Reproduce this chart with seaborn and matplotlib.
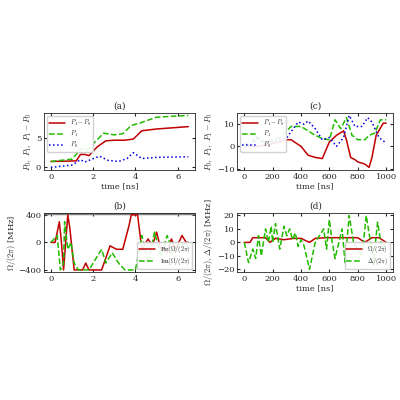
import matplotlib
matplotlib.use("Agg")
import matplotlib.pyplot as plt
import seaborn as sns
import pandas as pd

sns.set_style("ticks")
plt.rcParams.update({"font.family": ["DejaVu Serif"], "mathtext.fontset": "cm", "font.size": 6})

ta = [0,1.2,1.4,1.6,1.8,2.2,2.6,3.0,3.5,3.9,4.3,5,6.5]
a_diff = [1,1.1,2.2,2.2,2.0,3.5,4.5,4.6,4.6,4.8,6.2,6.5,6.9]
ta1 = [0,1,1.2,1.4,1.7,2.0,2.5,3,3.4,3.8,4.2,5,6.5]
a_p1 = [1,1.4,2.2,3.2,2.9,4,5.8,5.5,5.7,7.1,7.5,8.5,8.8]
ta0 = [0,1,1.4,1.6,2.3,2.7,3.2,3.6,3.9,4.3,5,6.5]
a_p0 = [0,0.4,1.3,0.9,1.9,1.2,1.0,1.5,2.5,1.5,1.7,1.8]

tb_re = [0,0.2,0.4,0.5,0.6,0.7,0.8,0.9,1.1,1.5,1.65,1.8,2.4,2.8,3.1,3.4,3.7,3.8,4.1,4.3,4.6,4.8,5,5.2,5.5,5.7,5.9,6.2,6.4,6.5]
b_re = [0,0,300,0,-400,0,400,200,-400,-400,-300,-400,-400,-50,-100,-100,250,400,400,-100,50,-50,150,-100,-150,50,-100,100,0,0]
tb_im = [0,0.3,0.45,0.6,0.65,0.8,0.95,1.1,1.3,1.8,2.2,2.4,2.6,2.9,3.2,3.5,4.0,4.3,4.6,4.9,5.2,5.5,5.8,6.1,6.5]
b_im = [0,100,-400,-300,300,-100,0,-300,-400,-400,-200,-100,-300,-150,-300,-400,-400,100,-300,150,-200,100,-150,-50,0]

tc_d = [0,60,100,150,300,330,400,450,500,550,600,650,700,720,750,780,800,850,880,900,930,980,1000]
c_diff = [1,0,0,0.5,3,3,0,-4,-5,-5.5,2,5,7,3,-5,-6,-7,-8,-9.5,-5,5,10.5,10.5]
tc_1 = [0,50,80,100,150,250,330,400,450,500,550,600,640,680,720,760,800,850,880,920,960,1000]
c_p1 = [1,1,5,3,1.5,4,9,9,7,5,3.5,3,12,8,13,5,3,3,5,6,12,12]
tc_0 = [0,50,100,140,200,300,380,420,450,500,550,600,650,700,740,780,830,870,900,950,1000]
c_p0 = [-0.5,0,4.5,1,2,4,11,10,11.5,8,3,4,0,4,14,9,9,13,11,4,1.5]

td_o = [0,40,60,150,180,220,280,350,400,460,500,580,800,850,900,950,1000]
d_om = [0,0,3.5,3.5,0,3,2,3,3,0,3,3.5,3.5,0,3.5,3.5,0]
td_d = [0,30,60,80,100,120,150,170,190,200,220,250,280,300,320,340,360,380,400,420,460,500,530,560,580,600,620,640,660,690,710,740,770,800,830,860,890,910,940,970,1000]
d_de = [0,-15,-5,-12,5,-10,10,0,12,0,14,-5,12,5,10,2,7,-3,2,-2,-20,0,5,10,-5,17,0,-12,-3,10,-15,20,0,-5,-10,20,0,-15,15,-5,0]

red, green, blue = "#c00000", "#22bb00", "#0000dd"
fig = plt.figure(figsize=(4, 4), dpi=100)
axa = fig.add_axes([0.11, 0.575, 0.378, 0.143])
axb = fig.add_axes([0.11, 0.32, 0.378, 0.148])
axc = fig.add_axes([0.593, 0.575, 0.39, 0.143])
axd = fig.add_axes([0.593, 0.32, 0.39, 0.148])

def line(ax, x, y, c, ls, lab):
    sns.lineplot(x=x, y=y, ax=ax, color=c, linestyle=ls, lw=1.1, label=lab)

line(axa, ta, a_diff, red, "-", r"$P_1-P_0$")
line(axa, ta1, a_p1, green, "--", r"$P_1$")
line(axa, ta0, a_p0, blue, ":", r"$P_0$")
axa.set_title("(a)", fontsize=6.5, pad=3)
axa.set_xlabel("time [ns]", labelpad=1); axa.set_ylabel(r"$P_0,\ P_1,\ P_1-P_0$", labelpad=1)
axa.set_xticks([0,2,4,6]); axa.set_yticks([0,5])

axb.axhline(420, color="gray", lw=2.5)
line(axb, tb_re, b_re, red, "-", r"Re$[\Omega/(2\pi)$")
line(axb, tb_im, b_im, green, "--", r"Im$[\Omega/(2\pi)$")
axb.set_ylim(-430, 430)
axb.set_title("(b)", fontsize=6.5, pad=3)
axb.set_ylabel(r"$\Omega/(2\pi)$ [MHz]", labelpad=0)
axb.set_xticks([0,2,4,6]); axb.set_yticks([-400,0,400])

line(axc, tc_d, c_diff, red, "-", r"$P_1-P_0$")
line(axc, tc_1, c_p1, green, "--", r"$P_1$")
line(axc, tc_0, c_p0, blue, ":", r"$P_0$")
axc.set_title("(c)", fontsize=6.5, pad=3)
axc.set_xlabel("time [ns]", labelpad=1); axc.set_ylabel(r"$P_0,\ P_1,\ P_1-P_0$", labelpad=1)
axc.set_xticks([0,200,400,600,800,1000]); axc.set_yticks([-10,0,10])

line(axd, td_o, d_om, red, "-", r"$\Omega/(2\pi)$")
line(axd, td_d, d_de, green, "--", r"$\Delta/(2\pi)$")
axd.set_title("(d)", fontsize=6.5, pad=3)
axd.set_xlabel("time [ns]", labelpad=1); axd.set_ylabel(r"$\Omega/(2\pi),\,\Delta/(2\pi)$ [MHz]", labelpad=1)
axd.set_xticks([0,200,400,600,800,1000]); axd.set_yticks([-20,-10,0,10,20])

for ax in (axa, axb, axc, axd):
    ax.tick_params(direction="in", length=2, labelsize=6, pad=2, top=True, right=True)
    for s in ax.spines.values(): s.set_visible(True); s.set_linewidth(0.6)
for ax, loc in ((axa, "upper left"), (axb, "lower right"), (axc, "upper left"), (axd, "lower right")):
    ax.legend(loc=loc, fontsize=4.5, handlelength=2.5, borderpad=0.3, labelspacing=0.15, framealpha=0.9)
fig.savefig("out.png", dpi=100)
